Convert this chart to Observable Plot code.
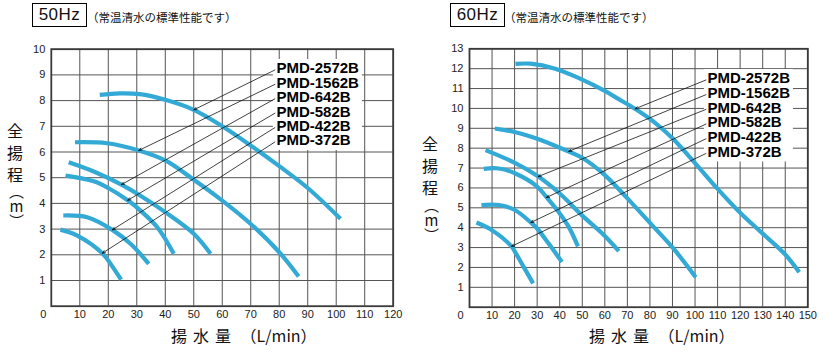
<!DOCTYPE html>
<html>
<head>
<meta charset="utf-8">
<script src="https://cdn.jsdelivr.net/npm/d3@7"></script>
<script src="https://cdn.jsdelivr.net/npm/@observablehq/plot@0.6"></script>
<style>
  body { margin: 0; background: #fff; }
  #wrap { position: relative; width: 823px; height: 355px; overflow: hidden; background: #fff;
          font-family: "Liberation Sans", Arial, sans-serif; color: #111; }
  .hz { position: absolute; top: 3px; width: 53px; height: 22px; border: 1px solid #000;
        font-size: 17px; line-height: 22px; text-align: center; letter-spacing: 0.5px; }
  .sub { position: absolute; top: 10px; font-size: 11.5px; line-height: 14px;
         font-family: "Noto Sans CJK JP", sans-serif; color: #111; }
  .ytitle { position: absolute; writing-mode: vertical-rl; font-family: "Noto Sans CJK JP", sans-serif;
            font-size: 16px; line-height: 16px; letter-spacing: 6px; color: #111; }
  .yunit { position: absolute; writing-mode: vertical-rl; text-orientation: upright;
           font-family: "Noto Sans CJK JP", sans-serif; font-size: 15px; line-height: 16px; color: #111; }
  .xtitle { position: absolute; top: 325px; font-family: "Noto Sans CJK JP", sans-serif;
            font-size: 16px; line-height: 20px; color: #111; white-space: nowrap; }
  .xtitle .k { letter-spacing: 6px; }
  .chart { position: absolute; top: 40px; }
</style>
</head>
<body>
<div id="wrap">
  <div class="hz" style="left:32px">50Hz</div>
  <div class="sub" style="left:87px">（常温清水の標準性能です）</div>
  <div class="hz" style="left:450px">60Hz</div>
  <div class="sub" style="left:504px">（常温清水の標準性能です）</div>

  <div class="ytitle" style="left:7px; top:123px">全揚程</div>
  <div class="yunit" style="left:8px; top:184px">（m）</div>
  <div class="ytitle" style="left:422px; top:136px">全揚程</div>
  <div class="yunit" style="left:423px; top:198px">（m）</div>

  <div class="xtitle" style="left:171px"><span class="k">揚水量</span> （L/min）</div>
  <div class="xtitle" style="left:589px"><span class="k">揚水量</span> （L/min）</div>

  <div id="c50" class="chart" style="left:0px"></div>
  <div id="c60" class="chart" style="left:410px"></div>
</div>
<script>
// ---- data ----
const models = ["PMD-2572B", "PMD-1562B", "PMD-642B", "PMD-582B", "PMD-422B", "PMD-372B"];

const xTicks50 = [10, 20, 30, 40, 50, 60, 70, 80, 90, 100, 110, 120];
const yTicks50 = [1, 2, 3, 4, 5, 6, 7, 8, 9, 10];
const xTicks60 = [10, 20, 30, 40, 50, 60, 70, 80, 90, 100, 110, 120, 130, 140, 150];
const yTicks60 = [1, 2, 3, 4, 5, 6, 7, 8, 9, 10, 11, 12, 13];

// 50Hz curves: [flow L/min, head m]
const c50_2572B = [[17, 8.22], [24, 8.28], [31, 8.25], [40, 8.03], [50, 7.64], [60, 7.0], [70, 6.25], [80, 5.45], [90, 4.6], [101.5, 3.4]];
const c50_1562B = [[8.3, 6.38], [19.6, 6.34], [30.7, 6.06], [40, 5.67], [50, 4.92], [60, 4.11], [70, 3.2], [80, 2.1], [86.8, 1.16]];
const c50_642B  = [[6.1, 5.6], [14.9, 5.24], [24.6, 4.73], [31.3, 4.3], [40, 3.66], [50, 2.82], [55.9, 2.04]];
const c50_582B  = [[5, 5.08], [14.9, 4.86], [20, 4.6], [26.8, 4.12], [31.3, 3.72], [37.2, 3.07], [43, 2.04]];
const c50_422B  = [[4.2, 3.53], [12.6, 3.46], [21.4, 2.97], [27.8, 2.43], [34.2, 1.65]];
const c50_372B  = [[3.2, 2.98], [9.1, 2.75], [17.9, 2.06], [21.4, 1.55], [24.5, 1.03]];
// points the leader arrows touch
const arrows50 = [[50, 7.64], [30.7, 6.06], [24.6, 4.73], [26.8, 4.12], [21.4, 2.97], [17.9, 2.06]];

// 60Hz curves
const c60_2572B = [[20.4, 12.24], [27, 12.25], [38, 12.0], [49, 11.5], [60, 10.88], [66, 10.48], [73.4, 9.98], [82, 9.3], [90, 8.5], [100, 7.25], [110, 5.95], [120, 4.75], [130, 3.7], [140, 2.65], [146.2, 1.76]];
const c60_1562B = [[11.2, 8.99], [20.4, 8.8], [30, 8.47], [40, 8.02], [49.9, 7.52], [59.9, 6.66], [69.8, 5.5], [80.2, 4.22], [90.2, 2.98], [100.3, 1.51]];
const c60_642B  = [[7.1, 7.9], [20.1, 7.26], [30, 6.61], [40, 5.72], [49.9, 4.62], [59.9, 3.6], [66.2, 2.82]];
const c60_582B  = [[6.3, 6.96], [13, 6.98], [20.1, 6.74], [30, 6.07], [34.4, 5.5], [40, 4.72], [44, 4.04], [48.1, 3.06]];
const c60_422B  = [[5.3, 5.14], [13, 5.14], [20.1, 4.89], [27.4, 4.24], [30, 3.96], [35.1, 3.2], [41, 2.27]];
const c60_372B  = [[3.1, 4.26], [10, 3.87], [18.6, 3.06], [20.1, 2.8], [24, 2.03], [28.2, 1.2]];
const arrows60 = [[73.4, 9.98], [44, 7.84], [30.4, 6.57], [34.1, 5.52], [27.2, 4.26], [18.6, 3.06]];

// ---- chart builder ----
function makeChart(cfg) {
  const { curves, targets, xTicks, yTicks, xMax, yMax, width, height, mL, mR, mT, mB,
          labelX, labelTopPx, labelStepPx, zeroDx } = cfg;
  const kx = (width - mL - mR) / xMax;
  const ky = (height - mT - mB) / yMax;
  const rows = [];
  curves.forEach((pts, i) => pts.forEach(([q, h]) => rows.push({ model: models[i], q, h })));
  const y0 = yMax - labelTopPx / ky;
  const labels = models.map((m, i) => ({ model: m, x: labelX, y: y0 - i * labelStepPx / ky }));
  const leaders = labels.map((l, i) => ({ x1: l.x - 1.5 / kx, y1: l.y - 1.5 / ky, x2: targets[i][0], y2: targets[i][1] }));
  const box = [{ x1: labelX - 3 / kx, x2: labelX + 86 / kx, y1: labels[0].y + 9 / ky, y2: labels[labels.length - 1].y - 10 / ky }];
  const zero = [{ x: 0, y: 0, t: "0" }];
  return Plot.plot({
    width, height, marginLeft: mL, marginRight: mR, marginTop: mT, marginBottom: mB,
    x: { domain: [0, xMax] },
    y: { domain: [0, yMax] },
    style: { fontFamily: "Liberation Sans, Arial, sans-serif", fontSize: "11px", color: "#222", background: "transparent" },
    marks: [
      Plot.gridX(xTicks, { stroke: "#555", strokeOpacity: 1, strokeWidth: 1 }),
      Plot.gridY(yTicks, { stroke: "#555", strokeOpacity: 1, strokeWidth: 1 }),
      Plot.rect(box, { x1: "x1", x2: "x2", y1: "y1", y2: "y2", fill: "white" }),
      Plot.frame({ stroke: "#3a3a3a", strokeWidth: 1.8 }),
      Plot.axisX(xTicks, { tickSize: 0, tickPadding: 4, label: null, fontSize: 11 }),
      Plot.axisY(yTicks, { tickSize: 0, tickPadding: 6, label: null, fontSize: 11 }),
      Plot.text(zero, { x: "x", y: "y", text: "t", dx: zeroDx, dy: 4, lineAnchor: "top", fontSize: 11, fill: "#222" }),
      Plot.line(rows, { x: "q", y: "h", z: "model", stroke: "#33a9d6", strokeWidth: 4.2, curve: "catmull-rom", strokeLinecap: "butt" }),
      Plot.arrow(leaders, { x1: "x1", y1: "y1", x2: "x2", y2: "y2", stroke: "#111", strokeWidth: 0.8, headLength: 6, headAngle: 45 }),
      Plot.text(labels, { x: "x", y: "y", text: "model", textAnchor: "start", fontSize: 15, fontWeight: "bold", fill: "#000" })
    ]
  });
}

document.getElementById("c50").append(makeChart({
  curves: [c50_2572B, c50_1562B, c50_642B, c50_582B, c50_422B, c50_372B],
  targets: arrows50, xTicks: xTicks50, yTicks: yTicks50, xMax: 120, yMax: 10,
  width: 410, height: 315, mL: 50.8, mR: 17.3, mT: 8.7, mB: 49.3,
  labelX: 79, labelTopPx: 19.3, labelStepPx: 14.4, zeroDx: -8
}));
document.getElementById("c60").append(makeChart({
  curves: [c60_2572B, c60_1562B, c60_642B, c60_582B, c60_422B, c60_372B],
  targets: arrows60, xTicks: xTicks60, yTicks: yTicks60, xMax: 150, yMax: 13,
  width: 413, height: 315, mL: 59, mR: 15.7, mT: 8.3, mB: 48.3,
  labelX: 105.5, labelTopPx: 29.7, labelStepPx: 14.7, zeroDx: -9
}));
</script>
</body>
</html>
